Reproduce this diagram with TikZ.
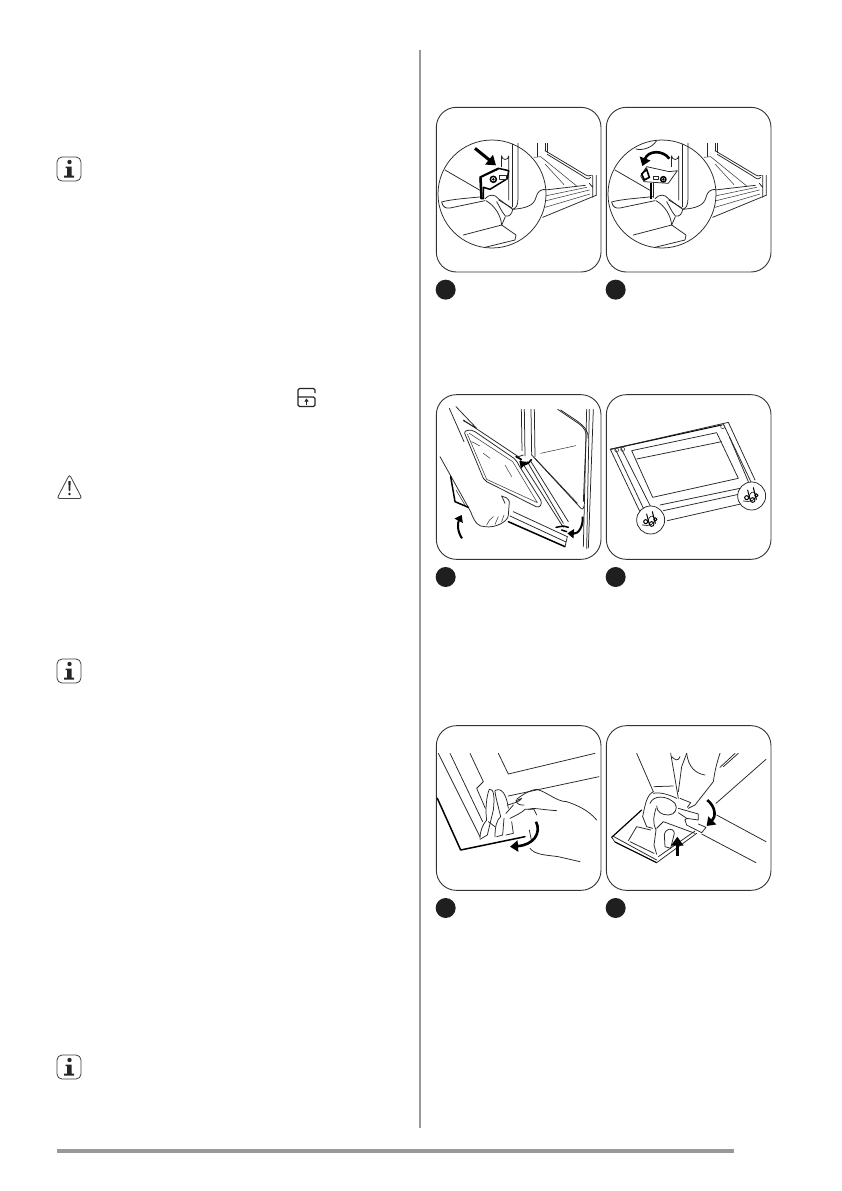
\documentclass[tikz,border=0pt]{standalone}
\usepackage{fontspec}
\setmainfont{Liberation Serif}
\usetikzlibrary{arrows.meta}
\tikzset{
  ink/.style={line width=0.75pt,line join=round,line cap=round,black!85},
  thin ink/.style={line width=0.55pt,line join=round,line cap=round,black!75},
  heavy/.style={line width=1.5pt,line join=round,line cap=round,black},
  frame/.style={line width=0.9pt,black!80,rounded corners=20pt},
  badge/.style={fill=black!88,draw=none},
  bigarrow/.style={line width=3pt,black,-{Triangle[length=9pt,width=12pt]}},
  curvearrow/.style={line width=2.6pt,black,-{Triangle[length=8pt,width=11pt]}},
  midarrow/.style={line width=2pt,black,-{Triangle[length=6.5pt,width=9pt]}},
  rule/.style={fill=black!40,draw=none},
  zoomed/.style={x=0.33333pt,y=-0.33333pt}
}
\newcommand{\oven}{%
  % frame beyond the magnifier
  \draw[ink] (323,130)--(323,170) (345,130)--(345,152) (352,130)--(352,158);
  \draw[ink] (345,152)--(462,222) .. controls (472,228) and (478,230) .. (484,226);
  \draw[ink] (352,163)--(458,228) .. controls (468,236) and (476,240) .. (482,232);
  \draw[thin ink] (312,172)--(332,170)--(440,258);
  \draw[thin ink] (345,192)--(402,254);
  \draw[ink] (488,226)--(488,292) (499,226)--(499,286) (478,250)--(488,262);
  \draw[ink] (345,270)--(466,256);
  \draw[thin ink] (345,288)--(470,262) (345,303)--(478,270) (345,322)--(480,282);
  \draw[ink] (338,352)--(498,286);
  % magnifier
  \draw[ink,fill=white] (186,282) circle (162);
  \draw[ink] (45,210)--(152,272);
  \draw[ink] (248,133)--(248,320);
  \draw[ink] (264,130)--(264,296) .. controls (264,316) and (258,325) .. (248,328);
  \draw[ink] (248,328) .. controls (285,325) and (312,318) .. (318,292) .. controls (322,275) and (332,268) .. (346,268);
  \draw[ink] (215,168) arc (180:0:10.5) -- (236,300);
  \draw[ink] (215,168)--(215,200);
  % tray
  \draw[ink] (35,306) .. controls (60,298) and (120,294) .. (158,290);
  \draw[ink] (35,306) .. controls (38,322) and (48,326) .. (60,324) -- (165,302);
  \draw[ink] (165,296) .. controls (178,282) and (195,282) .. (205,296) -- (248,328);
  \draw[ink] (200,305) .. controls (208,318) and (214,334) .. (226,348) .. controls (238,352) and (247,340) .. (248,328);
  \draw[ink] (215,375)--(226,350);
  \draw[ink] (168,302) .. controls (195,318) and (212,345) .. (215,375) -- (100,405);
  \draw[ink] (215,375)--(258,405)--(255,420)--(165,442);
}
\begin{document}
\begin{tikzpicture}[x=1pt,y=-1pt]
\useasboundingbox (0,0) rectangle (841,1191);
\fill[white] (0,0) rectangle (841,1191);
% page rules
\fill[rule] (419,50) rectangle (421,1128);
\fill[rule] (57,1149) rectangle (734.3,1153);
% info icons
\foreach \yy in {157,659,1055}{
  \draw[line width=0.8pt,black!75,rounded corners=5pt] (57,\yy) rectangle (81,\yy+24);
  \fill[black!85] (69.5,\yy+5) circle (2.2);
  \fill[black!85] (65.5,\yy+9.5) -- (71.5,\yy+9.5) -- (71.5,\yy+18.5) -- (74,\yy+18.5) -- (74,\yy+20.5) -- (64,\yy+20.5) -- (64,\yy+18.5) -- (67,\yy+18.5) -- (67,\yy+11) -- (65.5,\yy+11) -- cycle;
}
% warning icon
\draw[line width=0.8pt,black!75,rounded corners=2.5pt] (69.5,474.5) -- (82,498.5) -- (57,498.5) -- cycle;
\fill[black!85] (68.3,481) -- (70.7,481) -- (70.2,491) -- (68.8,491) -- cycle;
\fill[black!85] (69.5,494) circle (1.4);
% unlock icon
\draw[line width=1.4pt,black!85,rounded corners=1.5pt] (315,393) -- (315,388.5) -- (298,388.5) -- (298,406.5) -- (315,406.5) -- (315,397) -- (298,397);
\draw[line width=1.1pt,black!85,-{Triangle[length=3pt,width=4pt]}] (306.5,404.5) -- (306.5,398.5);
% PANEL 1
\begin{scope}[shift={(430,100)},zoomed]
\draw[frame] (19,22) rectangle (513,516);
\fill[badge] (47,569) circle (30);
\oven
\draw[ink] (206,300)--(246,324);
\draw[heavy,fill=white] (150,232)--(205,205)--(236,212)--(232,236)--(180,268)--(160,262)--(160,296)--(153,296)--cycle;
\draw[line width=2.2pt,black] (152,233)--(155,294);
\draw[line width=2pt,black] (150,232)--(205,206);
\draw[heavy] (190,238) circle (9);
\fill (190,238) circle (4);
\draw[ink] (207,226) rectangle (230,238);
\draw[ink] (215,200)--(215,168);
\draw[bigarrow] (135,145)--(198,196);
\end{scope}
% PANEL 2
\begin{scope}[shift={(430,100)},zoomed]
\draw[frame] (529,22) rectangle (1023,516);
\fill[badge] (557,569) circle (30);
\begin{scope}[shift={(510,0)}]
\oven
\draw[ink] (206,300)--(246,324);
\draw[ink] (108,147) .. controls (125,152) and (155,145) .. (170,122);
\draw[ink,fill=white] (122,228)--(140,200)--(208,215)--(232,212)--(205,250)--(132,245)--cycle;
\draw[line width=1.6pt,black] (125,222) -- (140,208) -- (148,232) -- (133,240) -- cycle;
\draw[ink] (160,228) rectangle (175,238);
\draw[heavy] (190,238) circle (8);
\fill (190,238) circle (4);
\draw[line width=2.4pt,black] (153,248)--(153,298);
\draw[ink] (160,248)--(160,292);
\draw[curvearrow] (208,176) .. controls (190,150) and (145,150) .. (127,198);
\end{scope}
\end{scope}
% PANEL 3
\begin{scope}[shift={(430,390)},zoomed]
\draw[frame] (19,14) rectangle (513,508);
\fill[badge] (47,561) circle (30);
\draw[ink] (58,55)--(102,155);
\draw[ink] (78,50)--(140,115)--(100,92);
\draw[ink] (100,90)--(265,200)--(400,412);
\draw[ink] (110,122) .. controls (120,118) and (130,122) .. (135,125) -- (252,205) .. controls (260,212) and (264,220) .. (268,228) -- (332,330) .. controls (338,342) and (330,355) .. (318,350) -- (170,275) -- (160,265) -- (104,130) .. controls (104,125) and (106,122) .. (110,122);
\draw[thin ink] (118,130)--(248,215)--(322,338)--(170,268)--(112,132);
\draw[thin ink] (125,155)--(150,168) (160,190)--(180,205) (225,225)--(245,260);
\draw[ink] (265,200)--(280,195);
% oven frame
\draw[ink] (274,58)--(276,182);
\draw[ink] (283,58)--(285,198);
\draw[ink] (303,58)--(305,195);
\draw[ink] (313,58)--(315,200);
\draw[ink] (305,195)--(450,352) .. controls (456,360) and (460,358) .. (462,348);
\draw[ink] (315,205)--(442,340);
\draw[ink] (300,210)--(415,395);
\draw[ink] (292,215)--(400,400);
\draw[ink] (383,58)--(445,100) .. controls (465,115) and (470,125) .. (468,145) -- (460,335);
\draw[ink] (392,60)--(440,92) .. controls (460,107) and (476,120) .. (474,145);
\draw[ink] (470,58)--(460,470);
\draw[ink] (478,58)--(470,476);
\draw[ink] (490,58)--(475,474);
\draw[thin ink] (332,190)--(437,167);
% hand and lower door
\draw[ink] (30,200)--(122,365) .. controls (135,400) and (145,410) .. (165,410) .. controls (195,415) and (235,395) .. (235,375) -- (238,335) .. controls (235,325) and (225,320) .. (215,318);
\draw[thin ink] (170,405) .. controls (175,395) and (180,385) .. (190,380) (195,403)--(205,380) (215,395)--(222,375);
\draw[ink] (215,318)--(225,340);
\draw[heavy] (62,260)--(75,335)--(115,352);
\draw[thin ink] (78,300)--(105,345);
\draw[ink] (250,365)--(412,440);
\draw[ink] (240,378)--(408,456);
\draw[heavy] (235,395)--(405,470);
\draw[ink] (412,440)--(405,470);
\draw[heavy] (378,412)--(400,408)--(415,412) (395,420)--(410,425);
\draw[heavy] (258,200)--(274,208);
% arrows
\draw[midarrow] (96,445) .. controls (82,425) and (82,400) .. (95,375);
\draw[midarrow,line width=1.6pt] (305,208) .. controls (295,224) and (280,224) .. (268,213);
\draw[midarrow] (458,380) .. controls (460,410) and (445,432) .. (412,430);
\end{scope}
% PANEL 4
\begin{scope}[shift={(430,390)},zoomed]
\draw[frame] (529,14) rectangle (1023,508);
\fill[badge] (557,561) circle (30);
\draw[heavy,line width=1pt] (541,178)--(875,105);
\draw[ink] (541,178)--(895,97)--(975,270);
\draw[ink] (541,178)--(632,370);
\draw[ink] (555,175)--(645,365);
\draw[ink] (572,172)--(662,350);
\draw[ink] (605,182)--(860,128)--(925,265)--(668,322)--cycle;
\draw[ink] (620,207)--(875,155);
\draw[ink] (880,102)--(965,280);
\draw[ink] (898,140)--(955,275);
\draw[ink] (690,345)--(930,295);
\draw[ink] (700,362)--(930,312);
\draw[ink] (712,392)--(932,342);
\draw[thin ink] (560,180) circle (6) (578,178) circle (6) (878,110) circle (6);
\foreach \cx/\cy in {662/390,965/318}{
  \draw[ink,fill=white] (\cx,\cy) circle (42);
  \draw[ink] (\cx-25,\cy+15) .. controls (\cx-5,\cy+20) and (\cx+15,\cy+12) .. (\cx+12,\cy-5) .. controls (\cx+5,\cy-18) and (\cx-5,\cy-10) .. (\cx-8,\cy+2);
  \draw[heavy,line width=1pt] (\cx-12,\cy-18)--(\cx-5,\cy+10);
  \draw[heavy,line width=1pt] (\cx+5,\cy-25)--(\cx+14,\cy+10);
  \draw[heavy,line width=1pt] (\cx-15,\cy+5) circle (6) (\cx+3,\cy+12) circle (7) (\cx+14,\cy-2) circle (5);
}
\end{scope}
% PANEL 5
\begin{scope}[shift={(430,720)},zoomed]
\draw[frame] (19,17) rectangle (513,511);
\fill[badge] (47,564) circle (30);
\draw[ink] (25,100)--(150,350);
\draw[ink] (60,100)--(158,305);
\draw[ink] (120,100)--(160,185)--(140,205)--(166,265);
\draw[heavy] (22,235)--(92,390)--(285,350);
\draw[ink] (205,100)--(235,162)--(495,100);
\draw[ink] (235,228)--(507,170);
% clip and fingers
\draw[ink] (150,355) .. controls (150,330) and (160,312) .. (170,300) .. controls (165,270) and (170,225) .. (178,208) .. controls (190,205) and (195,225) .. (190,270);
\draw[ink] (190,270) -- (172,345) -- (150,358);
\draw[ink] (195,350) .. controls (195,320) and (200,300) .. (212,290) .. controls (205,260) and (195,225) .. (195,212) .. controls (215,200) and (230,225) .. (235,265);
\draw[ink] (200,350)--(218,345)--(222,295);
\draw[ink] (175,305) -- (195,320);
\draw[ink] (232,255) .. controls (250,250) and (270,245) .. (275,235) -- (258,242) .. controls (260,252) and (270,256) .. (282,255);
\draw[ink] (240,295) .. controls (255,288) and (280,275) .. (285,268) -- (312,268) -- (320,285);
\draw[ink] (250,255)--(228,280);
\draw[ink] (228,345)--(250,340)--(245,305);
\draw[ink] (260,238) .. controls (275,225) and (300,210) .. (320,208) .. controls (350,215) and (380,245) .. (410,245) .. controls (440,255) and (475,270) .. (500,300);
\draw[ink] (295,268) .. controls (310,262) and (325,268) .. (380,272);
\draw[ink] (298,330) -- (305,365);
\draw[ink] (300,385) .. controls (315,405) and (350,405) .. (385,410) -- (450,425);
\draw[curvearrow] (318,305) .. controls (335,340) and (310,375) .. (240,380);
\end{scope}
% PANEL 6
\begin{scope}[shift={(430,720)},zoomed]
\draw[frame] (529,17) rectangle (1023,511);
\fill[badge] (557,564) circle (30);
\draw[heavy,line width=1.2pt] (545,352)--(635,270);
\draw[ink] (545,352)--(555,366)--(680,428);
\draw[ink] (548,348)--(680,420);
\draw[heavy,line width=1pt] (555,366)--(680,428);
\draw[ink] (680,428)--(800,340);
\draw[ink] (685,410)--(795,333);
\draw[ink] (595,362)--(620,320)--(662,330);
\draw[ink] (600,365)--(672,400);
\draw[ink] (700,305)--(795,340) (700,305)--(680,325);
% hand
\draw[ink] (620,100)--(670,215);
\draw[ink] (670,215) .. controls (650,225) and (645,255) .. (638,290);
\draw[ink] (638,290)--(650,320)--(668,325);
\draw[ink] (670,220) .. controls (690,215) and (720,225) .. (740,235);
\draw[ink] (672,200)--(730,198);
\draw[ink] (660,250) .. controls (670,225) and (710,225) .. (735,250) .. controls (745,265) and (735,285) .. (715,285) .. controls (695,285) and (680,275) .. (680,258);
\draw[ink] (678,265) .. controls (670,290) and (668,310) .. (678,330) -- (672,375) -- (680,403);
\draw[ink] (722,100) -- (745,235);
\draw[ink] (725,110) .. controls (735,120) and (745,125) .. (750,110);
\draw[ink] (770,100) -- (755,140) -- (745,215);
\draw[ink] (870,100) .. controls (860,130) and (855,150) .. (850,185) -- (795,255) -- (775,265);
\draw[ink] (770,100) .. controls (775,140) and (795,160) .. (825,165);
\draw[ink] (750,235) -- (782,248) -- (772,262);
% latch
\draw[ink] (745,265) -- (805,282) -- (805,300) -- (770,295) -- (745,278);
\draw[ink] (765,300) -- (770,315) -- (815,338) -- (828,322) -- (805,312);
\draw[ink] (770,295)--(765,300);
\draw[ink] (858,250)--(1008,118);
\draw[ink] (860,285)--(1008,365);
\draw[ink] (815,342)--(978,428);
\draw[ink] (870,142)--(915,100);
\draw[ink] (880,140)--(925,100);
% pin
\draw[ink] (703,345) .. controls (705,325) and (730,320) .. (733,340) -- (722,385) -- (705,380) -- cycle;
% arrows
\draw[bigarrow] (742,408)--(742,350);
\draw[curvearrow] (832,240) .. controls (858,262) and (858,290) .. (830,318);
\end{scope}
\end{tikzpicture}
\end{document}
